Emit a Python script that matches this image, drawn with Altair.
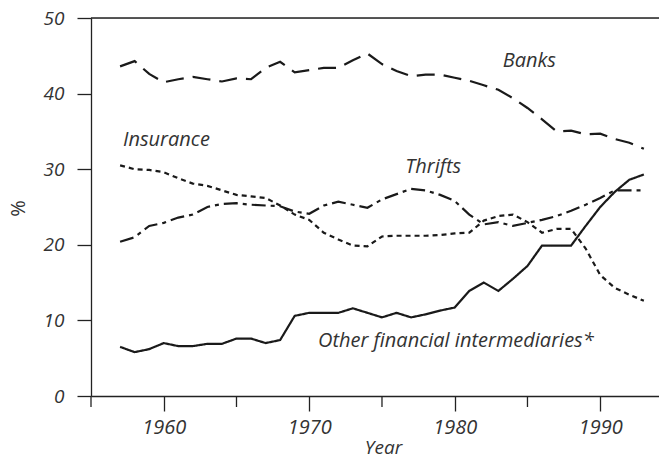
import altair as alt
import pandas as pd

years = list(range(1957, 1994))

banks = [43.6, 44.3, 42.6, 41.5, 41.9, 42.2, 41.9, 41.6, 42.0, 41.9,
         43.4, 44.2, 42.8, 43.1, 43.4, 43.4, 44.4, 45.3, 43.9, 43.0,
         42.3, 42.5, 42.5, 42.1, 41.7, 41.1, 40.5, 39.4, 38.1, 36.6,
         35.0, 35.1, 34.6, 34.7, 34.0, 33.5, 32.7]

insurance = [30.5, 30.0, 29.9, 29.6, 28.8, 28.1, 27.8, 27.2, 26.6, 26.4,
             26.2, 25.2, 24.0, 23.3, 21.6, 20.7, 19.9, 19.8, 21.1, 21.2,
             21.2, 21.2, 21.3, 21.5, 21.6, 23.2, 23.8, 24.0, 23.0, 21.6,
             22.1, 22.1, 19.5, 16.0, 14.3, 13.4, 12.6]

thrifts = [20.4, 21.0, 22.5, 22.9, 23.6, 24.0, 25.0, 25.4, 25.5, 25.3,
           25.2, 25.1, 24.4, 24.1, 25.2, 25.7, 25.3, 24.9, 26.0, 26.7,
           27.4, 27.2, 26.6, 25.8, 24.0, 22.7, 23.0, 22.5, 22.9, 23.3,
           23.8, 24.5, 25.3, 26.2, 27.2, 27.2, 27.2]

other = [6.5, 5.8, 6.2, 7.0, 6.6, 6.6, 6.9, 6.9, 7.6, 7.6,
         7.0, 7.4, 10.6, 11.0, 11.0, 11.0, 11.6, 11.0, 10.4, 11.0,
         10.4, 10.8, 11.3, 11.7, 13.9, 15.0, 13.9, 15.5, 17.2, 19.9,
         19.9, 19.9, 22.5, 25.0, 27.0, 28.6, 29.3]

series_names = ["Banks", "Insurance", "Thrifts", "Other financial intermediaries*"]

label_texts = ["Banks", "Insurance", "Thrifts", "Other financial intermediaries*"]
label_years = [1983.3, 1957.2, 1976.6, 1970.6]
label_values = [44.3, 33.8, 30.3, 7.3]

major_ticks = [1960, 1970, 1980, 1990]
minor_ticks = [1955, 1965, 1975, 1985]
y_ticks = [0, 10, 20, 30, 40, 50]

rows = []
for name, vals in zip(series_names, [banks, insurance, thrifts, other]):
    for yr, v in zip(years, vals):
        rows.append({"year": yr, "value": v, "series": name})
df = pd.DataFrame(rows)

labels_df = pd.DataFrame({"year": label_years, "value": label_values, "text": label_texts})
minor_df = pd.DataFrame({"year": minor_ticks})
top_df = pd.DataFrame({"value": [50]})

FONT = "Open Sans"
TXT = "#333333"
AX = "#222222"

x_scale = alt.Scale(domain=[1955, 1994.04], nice=False, zero=False)
y_scale = alt.Scale(domain=[0, 50], nice=False, zero=True)

x_axis = alt.Axis(
    values=major_ticks, format="d", tickSize=15, tickWidth=1.3, tickColor=AX,
    domainColor=AX, domainWidth=1.3, grid=False, labelFlush=False,
    labelFont=FONT, labelFontSize=20, labelFontStyle="italic", labelColor=TXT,
    labelPadding=6, title="Year", titleFont=FONT, titleFontSize=19,
    titleFontStyle="italic", titleFontWeight="normal", titleColor=TXT,
    titleX=292, titleY=57, titleBaseline="alphabetic", titleAlign="center",
)
y_axis = alt.Axis(
    values=y_ticks, format="d", tickSize=14, tickWidth=1.3, tickColor=AX,
    domainColor=AX, domainWidth=1.3, grid=False,
    labelFont=FONT, labelFontSize=19, labelFontStyle="italic", labelColor=TXT,
    labelPadding=13, title="%", titleFont=FONT, titleFontSize=20,
    titleFontWeight="normal", titleColor=TXT, titleAngle=-90,
    titleX=-73, titleY=190, titleAlign="center", titleBaseline="middle",
)

X = alt.X("year:Q", scale=x_scale, axis=x_axis)
Y = alt.Y("value:Q", scale=y_scale, axis=y_axis)

lines = alt.Chart(df).mark_line(color="#1a1a1a", strokeWidth=2.2).encode(
    x=X,
    y=Y,
    strokeDash=alt.StrokeDash(
        "series:N",
        scale=alt.Scale(domain=series_names,
                        range=[[18, 9], [5, 4], [14, 5, 4, 5], [1, 0]]),
        legend=None,
    ),
    detail="series:N",
)

minor = alt.Chart(minor_df).mark_rule(color=AX, strokeWidth=1.3).encode(
    x=X, y=alt.value(378), y2=alt.value(389)
)

top = alt.Chart(top_df).mark_rule(color=AX, strokeWidth=1.3).encode(y=Y)

texts = alt.Chart(labels_df).mark_text(
    align="left", baseline="middle", font=FONT, fontSize=20,
    fontStyle="italic", color=TXT
).encode(x=X, y=Y, text="text:N")

chart = alt.layer(lines, minor, top, texts).properties(
    width=568, height=378,
    autosize=alt.AutoSizeParams(type="none"),
    padding={"left": 83, "top": 10, "right": 0, "bottom": 63},
).configure_view(stroke=None).configure(background="white")

chart.save("out.html", embed_options={"renderer": "svg", "actions": False})
